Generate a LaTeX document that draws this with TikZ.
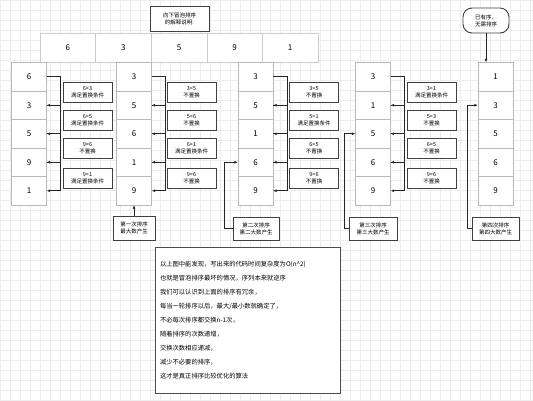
\documentclass[tikz,border=0pt]{standalone}
\usepackage{fontspec}
\setmainfont{Noto Sans CJK SC}
\usetikzlibrary{arrows.meta}

\tikzset{
  cell/.style={draw=gray!55, fill=white, minimum width=35pt, minimum height=28.5pt,
    inner sep=0pt, font=\fontsize{8}{9}\selectfont},
  note/.style={draw=black!75, line width=0.9pt, fill=white, minimum width=49pt,
    minimum height=20pt, inner sep=0pt, align=center, font=\fontsize{5.5}{7}\selectfont},
  link/.style={draw=black!85, line width=0.9pt, -{Latex[length=3.5pt,width=3pt]}},
}

\begin{document}
\begin{tikzpicture}[x=1pt,y=-1pt]
  \useasboundingbox (0,0) rectangle (533,400);
  \fill[white] (0,0) rectangle (533,400);
  \draw[gray!14, line width=0.3pt, step=10pt] (0,0) grid (533,400);

  % title and the unsorted row
  \node[note, minimum width=59pt, minimum height=25pt] (title) at (179.5,18.5) {向下冒泡排序\\的解释说明:};
  \foreach \v [count=\i] in {6,3,5,9,1}
    \node[cell, draw=gray!40, minimum width=55.6pt, minimum height=29pt] (a\i) at ({40+55.6*(\i-0.5)},47.5) {\v};

  % the five columns
  \foreach \c/\x/\vals in {1/29/{6,3,5,9,1}, 2/134/{3,5,6,1,9}, 3/255.5/{3,5,1,6,9},
                           4/373/{3,1,5,6,9}, 5/495.5/{1,3,5,6,9}}
    \foreach \v [count=\i] in \vals
      \node[cell] (c\c\i) at (\x,{48.25+28.5*\i}) {\v};

  % comparisons
  \foreach \c/\x/\ta/\tb/\tc/\td in {
      1/87.5/6>3\\满足置换条件/6>5\\满足置换条件/9>6\\不置换/9>1\\满足置换条件,
      2/191.5/3<5\\不置换/5<6\\不置换/6>1\\满足置换条件/9>6\\不置换,
      3/314/3<5\\不置换/5>1\\满足置换条件/6>5\\不置换/9>6\\不置换,
      4/431.5/3>1\\满足置换条件/5>3\\不置换/6>5\\不置换/9>6\\不置换} {
    \node[note] (n\c1) at (\x,92) {\ta};
    \node[note] (n\c2) at (\x,120) {\tb};
    \node[note] (n\c3) at (\x,148.5) {\tc};
    \node[note] (n\c4) at (\x,178) {\td};
    \foreach \i [evaluate=\i as \j using int(\i+1)] in {1,...,4}
      \draw[link] (c\c\i.east) -- ++(14,0) |- (c\c\j.east);
  }

  % results of each pass
  \node[note, minimum width=42pt, minimum height=24pt] (r2) at (134,228) {第一次排序\\最大数产生};
  \node[note, minimum width=46pt, minimum height=23pt] (r3) at (256,228.5) {第二次排序\\第二大数产生};
  \node[note, minimum width=48pt, minimum height=23pt] (r4) at (373,228.5) {第三次排序\\第三大数产生};
  \node[note, minimum width=47pt, minimum height=23pt] (r5) at (495.5,228.5) {第四次排序\\第四大数产生};
  \draw[link] (r2.north) -- (c25.south);
  \draw[link] (r3.west) -- ++(-8,0) |- (c34.west);
  \draw[link] (r4.west) -- ++(-4,0) |- (c43.west);
  \draw[link] (r5.west) -- ++(-4,0) |- (c52.west);

  \node[note, rounded corners=9pt, minimum width=46pt, minimum height=25pt] (done) at (486,20.5) {已有序，\\无需排序};
  \draw[link] (done.south) -- (done.south |- c51.north);

  % explanation
  \node[draw=black!70, line width=0.8pt, fill=white, minimum width=185pt, minimum height=146pt,
        text width=175pt, inner xsep=5pt, align=left, font=\fontsize{6.3}{14}\selectfont]
    (explain) at (247.5,320) {以上图中能发现，写出来的代码时间复杂度为O(n\^{}2)\\
      也就是冒泡排序最坏的情况，序列本来就逆序\\
      我们可以认识到上面的排序有冗余，\\
      每当一轮排序以后，最大/最小数就确定了，\\
      不必每次排序都交换n-1次，\\
      随着排序的次数递增，\\
      交换次数相应递减，\\
      减少不必要的排序，\\
      这才是真正排序比较优化的算法};
\end{tikzpicture}
\end{document}
